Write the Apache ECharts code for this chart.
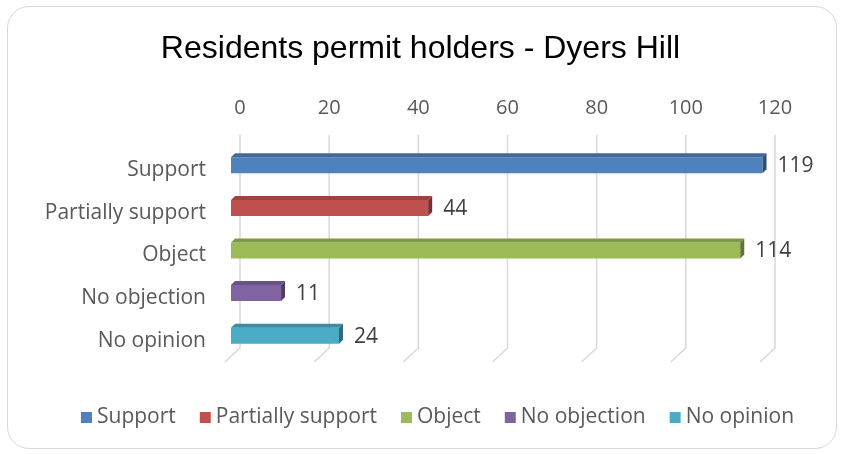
<!DOCTYPE html>
<html>
<head>
<meta charset="utf-8">
<script src="https://cdn.jsdelivr.net/npm/echarts@6/dist/echarts.min.js"></script>
<style>
html,body{margin:0;padding:0;background:#fff;}
#frame{position:absolute;left:7px;top:6px;width:830px;height:443px;border:1.5px solid #d9d9d9;border-radius:22px;box-sizing:border-box;}
#chart{position:absolute;left:0;top:0;width:841px;height:454px;}
</style>
</head>
<body>
<div id="frame"></div>
<div id="chart"></div>
<script>
const titleText = 'Residents permit holders - Dyers Hill';
const categories = ['Support', 'Partially support', 'Object', 'No objection', 'No opinion'];
const values = [119, 44, 114, 11, 24];
const xTicks = [0, 20, 40, 60, 80, 100, 120];
const palette = ['#4f81bd', '#c0504d', '#9bbb59', '#8064a2', '#4bacc6'];

const FONT = 'Open Sans';

function shade(hex, f) {
  const n = parseInt(hex.slice(1), 16);
  const r = Math.round(((n >> 16) & 255) * f);
  const g = Math.round(((n >> 8) & 255) * f);
  const b = Math.round((n & 255) * f);
  return 'rgb(' + r + ',' + g + ',' + b + ')';
}

function makeBarRender(color) {
  return function (params, api) {
    const v = api.value(0), c = api.value(1);
    const p0 = api.coord([0, c]);
    const p1 = api.coord([v, c]);
    const off = -8, d = 4;
    const cy = p1[1];
    const x0 = p0[0] + off - 1;
    const xr = p1[0] + off;
    const yTop = cy - 10, yF = cy - 6, yB = cy + 10;
    return {
      type: 'group',
      children: [
        { type: 'rect', shape: { x: x0, y: yF, width: xr - x0, height: yB - yF },
          style: { fill: color } },
        { type: 'polygon', shape: { points: [[x0, yF], [x0 + d, yTop], [xr + d, yTop], [xr, yF]] },
          style: { fill: shade(color, 0.82) } },
        { type: 'polygon', shape: { points: [[xr, yF], [xr + d, yTop], [xr + d, yB - d], [xr, yB]] },
          style: { fill: shade(color, 0.62) } },
        { type: 'text', style: { x: xr + d + 11, y: cy + 3, text: String(v), fill: '#404040',
          font: '21px "' + FONT + '"', verticalAlign: 'middle', align: 'left' } }
      ]
    };
  };
}

const gridSeries = {
  type: 'custom',
  name: '__grid',
  silent: true,
  z: 1,
  data: xTicks.map(t => [t, 0]),
  encode: { x: 0, y: 1 },
  renderItem: function (params, api) {
    const cs = params.coordSys;
    const x = api.coord([api.value(0), 0])[0];
    const top = cs.y - 7, bot = cs.y + cs.height - 7;
    return { type: 'polyline', shape: { points: [[x, top], [x, bot], [x - 15, bot + 14]] },
      style: { stroke: '#d9d9d9', lineWidth: 1.5, fill: null } };
  }
};

const barSeries = categories.map((name, i) => ({
  type: 'custom',
  name: name,
  z: 3,
  itemStyle: { color: palette[i] },
  data: [[values[i], i]],
  encode: { x: 0, y: 1 },
  renderItem: makeBarRender(palette[i])
}));

const chart = echarts.init(document.getElementById('chart'), null, { renderer: 'canvas' });
chart.setOption({
  animation: false,
  title: {
    text: titleText, left: 'center', top: 28,
    textStyle: { fontFamily: 'Liberation Sans', fontSize: 32, fontWeight: 'normal', color: '#000' }
  },
  legend: {
    data: categories, bottom: 21, left: 76, icon: 'rect',
    itemWidth: 11, itemHeight: 11, itemGap: 24,
    textStyle: { fontFamily: FONT, fontSize: 21, color: '#595959' }
  },
  grid: { left: 240, right: 66, top: 142, bottom: 99 },
  xAxis: {
    type: 'value', position: 'top', min: 0, max: 120, interval: 20,
    axisLine: { show: false }, axisTick: { show: false }, splitLine: { show: false },
    axisLabel: { margin: 24, fontFamily: FONT, fontSize: 20, color: '#595959' }
  },
  yAxis: {
    type: 'category', data: categories, inverse: true,
    axisLine: { show: false }, axisTick: { show: false },
    axisLabel: { margin: 34, fontFamily: FONT, fontSize: 21, color: '#595959',
      verticalAlign: 'top', lineHeight: 14 }
  },
  series: [gridSeries].concat(barSeries)
});
</script>
</body>
</html>
